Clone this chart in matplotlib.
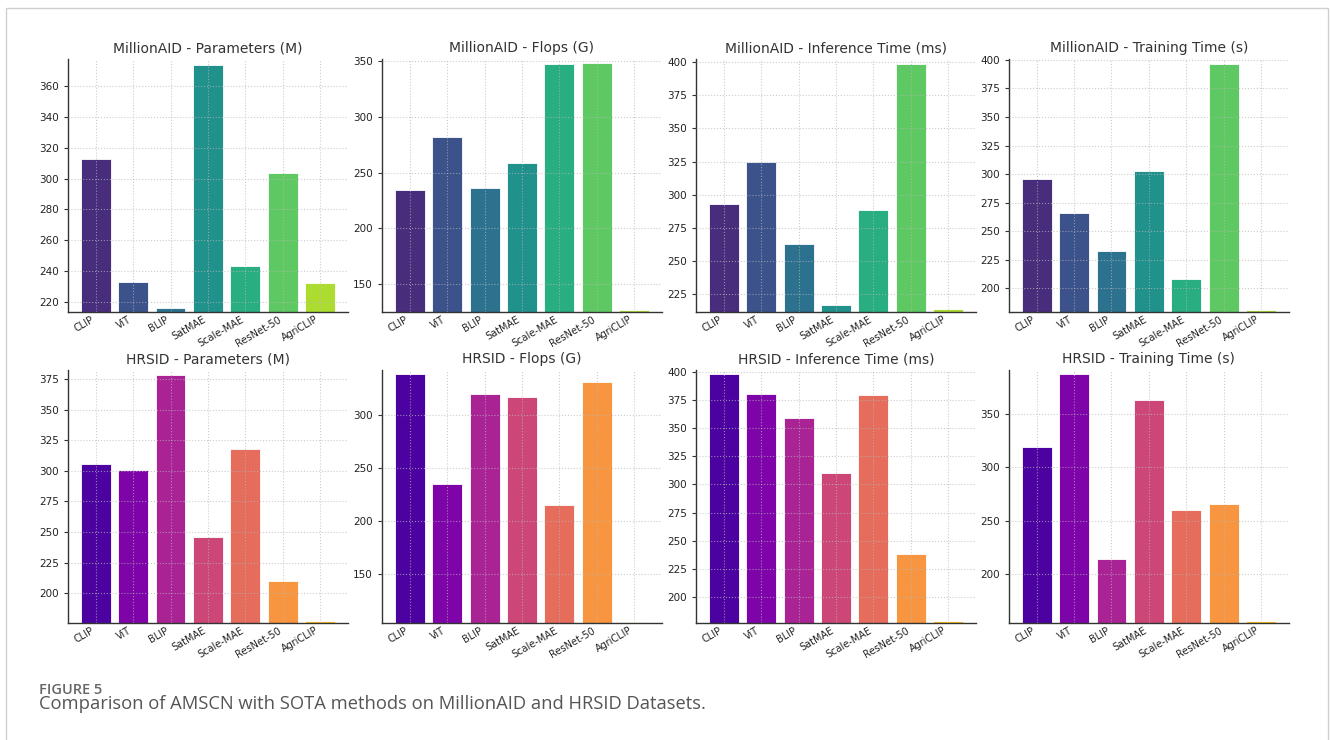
import matplotlib
matplotlib.use('Agg')
import matplotlib.pyplot as plt
import numpy as np
from matplotlib.patches import Rectangle

models = ['CLIP', 'ViT', 'BLIP', 'SatMAE', 'Scale-MAE', 'ResNet-50', 'AgriCLIP']

# MillionAID
mill_params = [312.8, 232.9, 215.8, 373.9, 243.3, 303.9, 232.3]
mill_flops = [234.1, 281.7, 236.5, 258.4, 347.3, 348.2, 126.7]
mill_infer = [293.1, 324.4, 262.4, 217.0, 288.6, 398.5, 213.8]
mill_train = [295.5, 266.2, 232.8, 303.1, 207.9, 396.8, 181.3]

# HRSID
hrsid_params = [305.3, 300.6, 378.8, 246.2, 317.8, 210.1, 177.5]
hrsid_flops = [339.1, 235.4, 320.2, 317.0, 214.9, 330.9, 105.4]
hrsid_infer = [397.6, 380.1, 359.3, 310.4, 379.5, 238.0, 179.0]
hrsid_train = [318.5, 386.8, 214.7, 362.8, 259.6, 265.5, 156.4]

metrics = ['Parameters (M)', 'Flops (G)', 'Inference Time (ms)', 'Training Time (s)']
rows = [
    ('MillionAID', 'viridis', [mill_params, mill_flops, mill_infer, mill_train]),
    ('HRSID', 'plasma', [hrsid_params, hrsid_flops, hrsid_infer, hrsid_train]),
]

fig = plt.figure(figsize=(13.3, 7.4), dpi=100)

lefts = [0.0511, 0.2872, 0.5233, 0.7586]
bottoms = [0.5788, 0.1585]
w, h = 0.2105, 0.3415

x = np.arange(len(models))
for r, (dname, cmap, series) in enumerate(rows):
    colors = plt.get_cmap(cmap)(np.linspace(0.125, 0.875, len(models)))
    for c, (metric, vals) in enumerate(zip(metrics, series)):
        ax = fig.add_axes([lefts[c], bottoms[r], w, h])
        ax.bar(x, vals, width=0.8, color=colors, edgecolor='white', linewidth=0.6)
        ax.set_ylim(min(vals) * 0.99, max(vals) * 1.01)
        ax.set_xticks(x)
        ax.set_xticklabels(models, rotation=30, ha='right', fontsize=7, color='#222222')
        ax.tick_params(axis='y', labelsize=7.5, labelcolor='#222222', length=3, color='#333333')
        ax.tick_params(axis='x', length=0, pad=2)
        ax.set_title(f'{dname} - {metric}', fontsize=10, color='#333333', pad=5)
        ax.grid(True, linestyle=':', color='#b8b8b8', linewidth=0.8, alpha=0.7)
        ax.set_axisbelow(False)
        for s in ['top', 'right']:
            ax.spines[s].set_visible(False)
        for s in ['left', 'bottom']:
            ax.spines[s].set_color('#333333')
            ax.spines[s].set_linewidth(1.0)

# page frame and caption
fig.patches.append(Rectangle((6 / 1330, -0.05), 1322 / 1330, 1 - 8 / 740 + 0.05,
                             transform=fig.transFigure, fill=False,
                             edgecolor='#cfcfcf', linewidth=1.0))
fig.text(39 / 1330, 1 - 694 / 740, 'FIGURE 5', family='Open Sans', fontweight='semibold',
         fontsize=10.5, color='#666666', va='baseline')
fig.text(39 / 1330, 1 - 709 / 740,
         'Comparison of AMSCN with SOTA methods on MillionAID and HRSID Datasets.',
         family='Open Sans', fontsize=13.2, color='#555555', va='baseline')

fig.savefig('out.png', dpi=100)
